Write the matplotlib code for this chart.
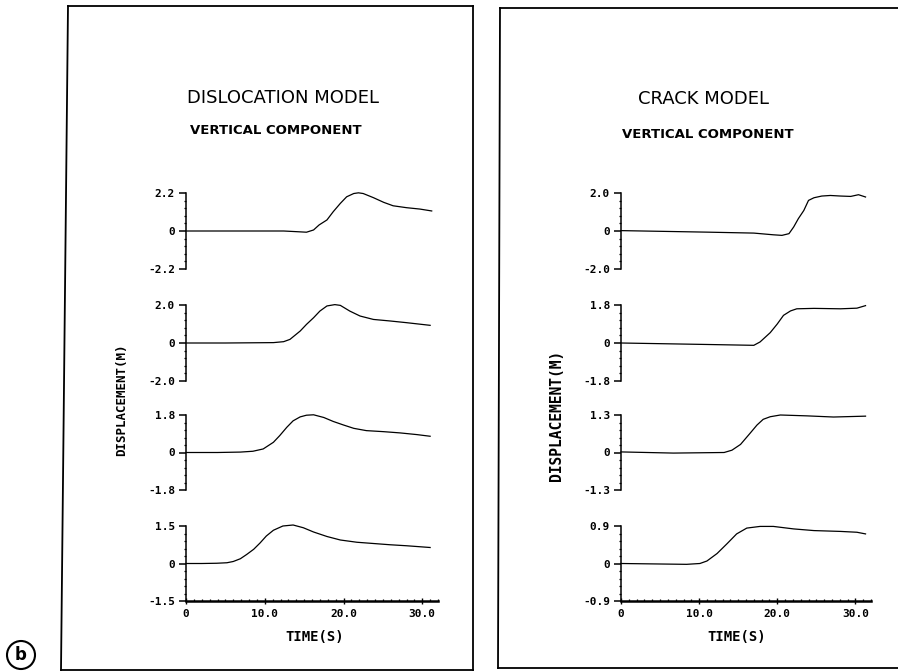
import numpy as np
import matplotlib.pyplot as plt
from matplotlib.lines import Line2D
from matplotlib.ticker import MultipleLocator

# ---- data (time in s, displacement in m) ----
disl_t = [
    [0, 5, 10, 12.4, 14.1, 15.3, 16.2, 16.9, 17.9, 18.7, 19.6, 20.4, 21.3, 21.9, 22.5,
     23.8, 25.1, 26.3, 28.0, 29.7, 31.2],
    [0, 5, 11.1, 12.4, 13.2, 14.5, 15.3, 16.2, 17.0, 17.9, 18.9, 19.6, 20.8, 22.1,
     23.8, 25.9, 28.0, 31.0],
    [0, 4, 6.9, 8.5, 9.8, 11.1, 11.9, 12.8, 13.6, 14.5, 15.3, 16.2, 17.5, 18.7, 20.0,
     21.3, 22.9, 25.1, 27.2, 29.3, 31.0],
    [0, 2, 3.9, 5.2, 6.0, 6.9, 7.7, 8.6, 9.4, 10.2, 11.1, 12.3, 13.6, 14.9, 16.2, 17.9,
     19.6, 21.7, 23.8, 25.9, 28.0, 31.0],
]
disl_y = [
    [0, 0, 0, 0, -0.04, -0.07, 0.06, 0.35, 0.64, 1.12, 1.6, 1.98, 2.17, 2.21, 2.17,
     1.93, 1.66, 1.46, 1.35, 1.27, 1.16],
    [0, 0, 0.02, 0.07, 0.19, 0.63, 0.98, 1.33, 1.68, 1.95, 2.02, 1.98, 1.68, 1.42,
     1.24, 1.16, 1.07, 0.93],
    [0, 0, 0.02, 0.06, 0.17, 0.49, 0.81, 1.21, 1.52, 1.71, 1.79, 1.81, 1.68, 1.49, 1.32,
     1.16, 1.05, 1.0, 0.94, 0.86, 0.78],
    [0, 0, 0.01, 0.03, 0.08, 0.19, 0.36, 0.57, 0.82, 1.1, 1.33, 1.5, 1.54, 1.43, 1.26,
     1.08, 0.94, 0.85, 0.8, 0.75, 0.71, 0.64],
]
disl_lim = [2.2, 2.0, 1.8, 1.5]
disl_lbl = ["2.2", "2.0", "1.8", "1.5"]

crack_t = [
    [0, 11.0, 17.0, 19.5, 20.6, 21.5, 22.1, 22.7, 23.4, 24.0, 24.7, 25.7, 26.8, 28.1,
     29.4, 30.4, 31.3],
    [0, 11.0, 17.0, 17.8, 19.1, 20.0, 20.8, 21.7, 22.5, 24.7, 28.1, 30.2, 31.3],
    [0, 6.7, 13.2, 14.2, 15.3, 16.5, 17.4, 18.2, 19.1, 20.4, 23.8, 27.2, 31.3],
    [0, 8.4, 10.1, 11.0, 12.3, 13.6, 14.8, 16.1, 17.8, 19.5, 22.1, 24.7, 28.1, 30.2, 31.3],
]
crack_y = [
    [0.02, -0.06, -0.11, -0.2, -0.23, -0.14, 0.21, 0.65, 1.08, 1.61, 1.75, 1.84, 1.87,
     1.84, 1.82, 1.91, 1.79],
    [0, -0.07, -0.11, 0.05, 0.49, 0.9, 1.31, 1.52, 1.62, 1.64, 1.62, 1.65, 1.77],
    [0.02, -0.02, 0, 0.08, 0.28, 0.66, 0.95, 1.15, 1.24, 1.3, 1.27, 1.23, 1.26],
    [0, -0.02, 0, 0.06, 0.24, 0.48, 0.71, 0.85, 0.89, 0.89, 0.83, 0.79, 0.77, 0.75, 0.71],
]
crack_lim = [2.0, 1.8, 1.3, 0.9]
crack_lbl = ["2.0", "1.8", "1.3", "0.9"]

xticks = [0, 10, 20, 30]
xtick_lbl = ["0", "10.0", "20.0", "30.0"]

W, H = 898, 672
fig = plt.figure(figsize=(W / 100, H / 100), dpi=100)

rows = [(193, 269), (305, 381), (415, 490), (526, 601)]
tickfont = dict(family="DejaVu Sans Mono", weight="bold", size=8)


def panel(x0_px, w_px, ts, ys, lims, lbls):
    for i, (top, bot) in enumerate(rows):
        ax = fig.add_axes([x0_px / W, 1 - bot / H, w_px / W, (bot - top) / H])
        ax.plot(ts[i], ys[i], color="black", lw=0.9, clip_on=False)
        lim = lims[i]
        ax.set_ylim(-lim, lim)
        ax.set_xlim(0, 32)
        for s in ["top", "right", "bottom"]:
            ax.spines[s].set_visible(False)
        ax.spines["left"].set_linewidth(1.1)
        ax.set_yticks([-lim, 0, lim])
        ax.set_yticklabels(["-" + lbls[i], "0", lbls[i]], fontdict=tickfont)
        ax.yaxis.set_minor_locator(MultipleLocator(lim / 5))
        ax.tick_params(axis="y", which="major", direction="out", length=5, width=1.1, pad=3)
        ax.tick_params(axis="y", which="minor", direction="out", length=1.8, width=0.9)
        if i < 3:
            ax.set_xticks([])
            ax.xaxis.set_minor_locator(plt.NullLocator())
        else:
            ax.spines["bottom"].set_visible(True)
            ax.spines["bottom"].set_linewidth(1.8)
            ax.set_xticks(xticks)
            ax.set_xticklabels(xtick_lbl, fontdict=tickfont)
            ax.xaxis.set_minor_locator(MultipleLocator(1))
            ax.tick_params(axis="x", which="major", direction="inout", length=4, width=1.0, pad=4)
            ax.tick_params(axis="x", which="minor", direction="in", length=1.8, width=0.9)
        ax.patch.set_visible(False)


panel(186, 252, disl_t, disl_y, disl_lim, disl_lbl)
panel(621, 250, crack_t, crack_y, crack_lim, crack_lbl)

# titles and axis labels
def ftext(x, y, s, **kw):
    fig.text(x / W, 1 - y / H, s, ha="center", va="center", **kw)

ftext(283, 98, "DISLOCATION MODEL", fontsize=13, family="DejaVu Sans")
ftext(276, 131, "VERTICAL COMPONENT", fontsize=9.5, family="DejaVu Sans", weight="bold")
ftext(703, 99, "CRACK MODEL", fontsize=13, family="DejaVu Sans")
ftext(708, 134, "VERTICAL COMPONENT", fontsize=9.5, family="DejaVu Sans", weight="bold")
ftext(122, 400, "DISPLACEMENT(M)", fontsize=9, family="DejaVu Sans Mono", weight="bold", rotation=90)
ftext(556, 415, "DISPLACEMENT(M)", fontsize=10.5, family="DejaVu Sans Mono", weight="bold", rotation=90)
ftext(315, 637, "TIME(S)", fontsize=10, family="DejaVu Sans Mono", weight="bold")
ftext(737, 637, "TIME(S)", fontsize=10, family="DejaVu Sans Mono", weight="bold")
ftext(21, 655, "b", fontsize=12, weight="bold",
      bbox=dict(boxstyle="circle,pad=0.3", fc="white", ec="black", lw=1.5))

# frames around the two panels
def fline(xs, ys, lw=1.3):
    fig.add_artist(Line2D([x / W for x in xs], [1 - y / H for y in ys],
                          color="black", lw=lw, transform=fig.transFigure))

fline([68, 473], [6, 6])
fline([473, 473], [6, 670])
fline([61, 473], [670, 670])
fline([68, 61], [6, 670])
fline([500, 900], [8, 8])
fline([500, 498], [8, 668])
fline([498, 900], [668, 668])

fig.savefig("out.png", dpi=100)
